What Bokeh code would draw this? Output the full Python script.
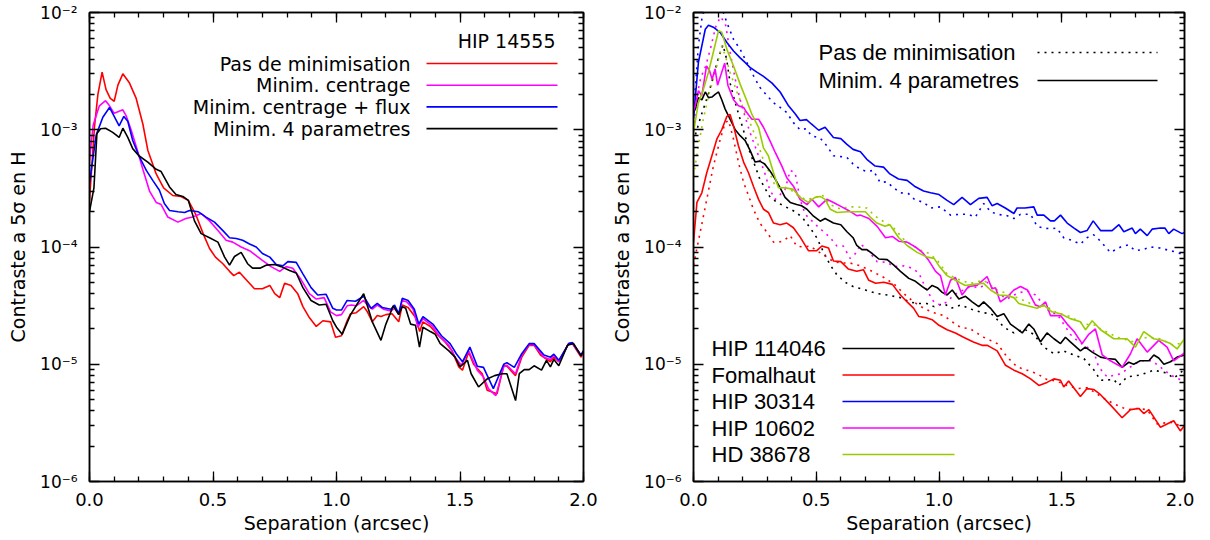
from bokeh.plotting import figure
from bokeh.layouts import row
from bokeh.models import FixedTicker, LinearAxis, LogAxis, PrintfTickFormatter, Range1d
from bokeh.embed import file_html
from bokeh.resources import INLINE
from bokeh.core.properties import value

# ---------------- data (separation in arcsec, 5-sigma contrast) ----------------
# Left panel : HIP 14555, four reduction methods
hip14555_pas_de_min = [(0.0,2.5e-4),(0.02,1.05e-3),(0.034,2.0e-3),(0.051,3.1e-3),(0.067,2.2e-3),(0.084,1.85e-3),(0.10,1.75e-3),(0.115,2.4e-3),(0.135,3.0e-3),(0.162,2.5e-3),(0.189,1.85e-3),(0.216,1.12e-3),(0.236,6.7e-4),(0.27,4.2e-4),(0.30,3.2e-4),(0.337,2.75e-4),(0.37,2.7e-4),(0.40,2.5e-4),(0.43,1.9e-4),(0.46,1.3e-4),(0.486,9.7e-5),(0.51,8.2e-5),(0.54,7.2e-5),(0.567,6.2e-5),(0.584,5.7e-5),(0.607,6.1e-5),(0.64,5.1e-5),(0.668,4.4e-5),(0.70,4.4e-5),(0.73,4.7e-5),(0.75,4.0e-5),(0.77,3.7e-5),(0.79,4.9e-5),(0.816,4.7e-5),(0.843,4.0e-5),(0.864,3.1e-5),(0.89,2.5e-5),(0.918,2.1e-5),(0.945,2.35e-5),(0.976,2.3e-5),(0.996,1.7e-5),(1.02,1.75e-5),(1.043,2.35e-5),(1.057,2.7e-5),(1.08,2.75e-5),(1.11,3.1e-5),(1.125,2.8e-5),(1.145,2.3e-5),(1.165,2.6e-5),(1.18,2.55e-5),(1.20,2.65e-5),(1.225,2.7e-5),(1.252,2.3e-5),(1.266,3.2e-5),(1.29,3.05e-5),(1.32,2.5e-5),(1.337,1.9e-5),(1.35,2.3e-5),(1.38,2.1e-5),(1.408,1.8e-5),(1.44,1.55e-5),(1.468,1.3e-5),(1.495,9.5e-6),(1.51,8.9e-6),(1.535,1.27e-5),(1.555,1.0e-5),(1.57,9.2e-6),(1.59,8.3e-6),(1.61,6.0e-6),(1.65,5.6e-6),(1.677,9.8e-6),(1.69,9.6e-6),(1.725,8.0e-6),(1.75,1.15e-5),(1.78,1.45e-5),(1.80,1.45e-5),(1.826,1.2e-5),(1.866,1.05e-5),(1.88,1.15e-5),(1.90,1.05e-5),(1.94,1.5e-5),(1.955,1.5e-5),(1.99,1.15e-5),(2.0,1.25e-5)]
hip14555_centrage = [(0.0,5.5e-4),(0.015,1.1e-3),(0.04,1.6e-3),(0.065,1.77e-3),(0.081,1.6e-3),(0.10,1.38e-3),(0.135,1.48e-3),(0.148,1.32e-3),(0.169,9.9e-4),(0.19,7.1e-4),(0.216,4.6e-4),(0.243,3.0e-4),(0.27,2.4e-4),(0.29,2.3e-4),(0.317,1.8e-4),(0.358,1.63e-4),(0.39,1.75e-4),(0.418,1.8e-4),(0.452,1.93e-4),(0.486,1.67e-4),(0.52,1.38e-4),(0.553,1.14e-4),(0.58,1.1e-4),(0.614,1.0e-4),(0.648,9.3e-5),(0.70,7.7e-5),(0.735,6.8e-5),(0.77,6.2e-5),(0.796,6.8e-5),(0.823,6.6e-5),(0.857,5.25e-5),(0.89,4.0e-5),(0.918,3.6e-5),(0.95,3.7e-5),(0.976,2.8e-5),(1.0,2.6e-5),(1.02,2.65e-5),(1.043,3.15e-5),(1.06,3.2e-5),(1.08,3.15e-5),(1.11,3.5e-5),(1.125,3.2e-5),(1.145,2.95e-5),(1.165,3.2e-5),(1.19,2.95e-5),(1.22,2.85e-5),(1.235,3.0e-5),(1.252,2.65e-5),(1.266,3.5e-5),(1.285,3.4e-5),(1.31,2.95e-5),(1.33,2.07e-5),(1.35,2.45e-5),(1.385,2.15e-5),(1.42,1.7e-5),(1.455,1.45e-5),(1.48,1.15e-5),(1.505,9.8e-6),(1.535,1.3e-5),(1.57,8.9e-6),(1.595,7.8e-6),(1.615,6.2e-6),(1.645,5.4e-6),(1.677,9.5e-6),(1.69,9.8e-6),(1.725,8.3e-6),(1.75,1.2e-5),(1.78,1.47e-5),(1.80,1.47e-5),(1.84,1.15e-5),(1.866,1.1e-5),(1.88,1.2e-5),(1.90,1.05e-5),(1.94,1.5e-5),(1.955,1.52e-5),(1.99,1.18e-5),(2.0,1.25e-5)]
hip14555_centrage_flux = [(0.0,3.5e-4),(0.027,9e-4),(0.054,1.28e-3),(0.081,1.55e-3),(0.10,1.3e-3),(0.12,1.08e-3),(0.139,1.3e-3),(0.155,1.18e-3),(0.175,8.1e-4),(0.20,6.0e-4),(0.23,4.5e-4),(0.256,3.7e-4),(0.283,3.05e-4),(0.303,2.35e-4),(0.324,2.05e-4),(0.358,2.0e-4),(0.385,1.97e-4),(0.405,2.05e-4),(0.44,2.0e-4),(0.472,1.8e-4),(0.506,1.63e-4),(0.54,1.38e-4),(0.567,1.2e-4),(0.594,1.18e-4),(0.62,1.14e-4),(0.648,1.06e-4),(0.675,1.0e-4),(0.70,8.8e-5),(0.73,8.2e-5),(0.756,7.1e-5),(0.783,6.9e-5),(0.803,7.5e-5),(0.837,7.4e-5),(0.864,5.9e-5),(0.897,4.5e-5),(0.924,3.9e-5),(0.958,3.95e-5),(0.985,3.0e-5),(1.0,2.9e-5),(1.02,2.9e-5),(1.043,3.5e-5),(1.077,3.45e-5),(1.11,3.8e-5),(1.14,3.0e-5),(1.165,3.3e-5),(1.185,3.05e-5),(1.22,2.95e-5),(1.235,3.2e-5),(1.252,2.7e-5),(1.266,3.65e-5),(1.29,3.5e-5),(1.315,2.95e-5),(1.333,2.2e-5),(1.35,2.55e-5),(1.39,2.2e-5),(1.425,1.75e-5),(1.46,1.5e-5),(1.485,1.23e-5),(1.51,1.05e-5),(1.54,1.4e-5),(1.57,9.6e-6),(1.595,9.4e-6),(1.635,6.2e-6),(1.677,1.0e-5),(1.69,1.03e-5),(1.72,9.4e-6),(1.75,1.23e-5),(1.78,1.5e-5),(1.80,1.5e-5),(1.84,1.2e-5),(1.866,1.15e-5),(1.88,1.22e-5),(1.90,1.08e-5),(1.94,1.5e-5),(1.955,1.53e-5),(1.99,1.2e-5),(2.0,1.3e-5)]
hip14555_4param = [(0.0,2.0e-4),(0.018,3.2e-4),(0.03,9.3e-4),(0.045,1.02e-3),(0.065,1.03e-3),(0.094,9.5e-4),(0.12,8.6e-4),(0.135,1.03e-3),(0.155,8.6e-4),(0.175,6.9e-4),(0.20,6.0e-4),(0.236,5.3e-4),(0.27,4.6e-4),(0.29,4.4e-4),(0.324,3.25e-4),(0.35,2.8e-4),(0.378,2.7e-4),(0.40,2.5e-4),(0.425,1.67e-4),(0.452,1.3e-4),(0.486,1.2e-4),(0.52,1.1e-4),(0.547,8.2e-5),(0.567,7.0e-5),(0.587,8.3e-5),(0.614,9.0e-5),(0.64,7.2e-5),(0.66,6.6e-5),(0.69,6.6e-5),(0.715,7.0e-5),(0.75,7.1e-5),(0.776,6.8e-5),(0.81,6.3e-5),(0.837,6.0e-5),(0.864,4.5e-5),(0.897,3.5e-5),(0.93,3.2e-5),(0.958,3.25e-5),(0.985,2.35e-5),(1.0,2.07e-5),(1.023,1.8e-5),(1.057,2.65e-5),(1.085,3.3e-5),(1.11,4.0e-5),(1.145,2.3e-5),(1.18,1.6e-5),(1.20,2.2e-5),(1.23,3.15e-5),(1.252,2.65e-5),(1.266,3.1e-5),(1.28,3.0e-5),(1.30,2.2e-5),(1.32,2.15e-5),(1.336,1.4e-5),(1.35,2.07e-5),(1.38,1.9e-5),(1.40,1.8e-5),(1.42,1.5e-5),(1.455,1.3e-5),(1.48,1.15e-5),(1.50,9.5e-6),(1.53,1.08e-5),(1.545,8.3e-6),(1.575,6.4e-6),(1.61,7.5e-6),(1.64,8.0e-6),(1.67,8.3e-6),(1.69,8.3e-6),(1.725,4.9e-6),(1.74,8.3e-6),(1.76,9.0e-6),(1.78,9.0e-6),(1.80,9.7e-6),(1.83,8.9e-6),(1.85,1.08e-5),(1.866,9.5e-6),(1.88,1.1e-5),(1.90,9.7e-6),(1.935,1.45e-5),(1.96,1.5e-5),(1.99,1.18e-5),(2.0,1.3e-5)]

left_labels = ["Pas de minimisation", "Minim. centrage", "Minim. centrage + flux", "Minim. 4 parametres"]
left_colors = ["#ff0000", "#ff00ff", "#0000ff", "#000000"]
left_title = "HIP 14555"

# Right panel : five stars, no minimisation (dotted) vs 4-parameter minimisation (solid)
hip114046_nm = [(0.0,8e-4),(0.03,1.3e-3),(0.06,2.0e-3),(0.08,2.8e-3),(0.10,4.0e-3),(0.12,5.3e-3),(0.135,4.0e-3),(0.149,2.5e-3),(0.17,1.7e-3),(0.19,1.23e-3),(0.21,8.9e-4),(0.23,6.4e-4),(0.251,4.9e-4),(0.27,3.8e-4),(0.29,3.2e-4),(0.31,2.7e-4),(0.34,2.4e-4),(0.367,2.25e-4),(0.394,2.1e-4),(0.42,1.97e-4),(0.448,1.73e-4),(0.475,1.46e-4),(0.502,1.2e-4),(0.53,9.0e-5),(0.557,7.0e-5),(0.584,5.8e-5),(0.618,5.0e-5),(0.65,4.6e-5),(0.70,4.3e-5),(0.75,4.0e-5),(0.79,3.9e-5),(0.843,3.7e-5),(0.88,3.4e-5),(0.911,3.3e-5),(0.95,3.3e-5),(0.98,3.1e-5),(1.02,3.3e-5),(1.05,3.0e-5),(1.088,3.2e-5),(1.14,2.9e-5),(1.182,2.75e-5),(1.21,2.7e-5),(1.223,2.6e-5),(1.264,2.07e-5),(1.305,1.85e-5),(1.346,2.0e-5),(1.386,1.8e-5),(1.427,1.4e-5),(1.468,1.23e-5),(1.508,1.3e-5),(1.535,1.23e-5),(1.59,1.12e-5),(1.63,9.0e-6),(1.658,7.3e-6),(1.712,7.4e-6),(1.733,6.6e-6),(1.766,7.8e-6),(1.82,8.1e-6),(1.875,8.9e-6),(1.929,8.4e-6),(1.956,7.6e-6),(1.99,8.7e-6),(2.0,9.1e-6)]
hip114046_m4 = [(0.0,1.4e-3),(0.007,1.5e-3),(0.02,1.88e-3),(0.034,1.8e-3),(0.048,2.1e-3),(0.061,1.88e-3),(0.075,1.9e-3),(0.088,2.0e-3),(0.102,2.1e-3),(0.115,1.8e-3),(0.129,1.5e-3),(0.149,1.23e-3),(0.17,1.0e-3),(0.19,8.9e-4),(0.21,8.1e-4),(0.23,6.7e-4),(0.251,5.3e-4),(0.27,5.4e-4),(0.29,5.1e-4),(0.31,4.5e-4),(0.333,3.8e-4),(0.353,3.2e-4),(0.373,2.65e-4),(0.394,2.4e-4),(0.42,2.3e-4),(0.44,2.25e-4),(0.462,2.1e-4),(0.489,1.83e-4),(0.516,1.66e-4),(0.536,1.75e-4),(0.57,1.6e-4),(0.60,1.55e-4),(0.625,1.35e-4),(0.65,1.2e-4),(0.665,1.03e-4),(0.686,9.5e-5),(0.706,9.5e-5),(0.728,8.8e-5),(0.755,7.9e-5),(0.789,7.8e-5),(0.816,7.0e-5),(0.843,6.2e-5),(0.877,5.4e-5),(0.904,5.1e-5),(0.932,4.6e-5),(0.952,4.3e-5),(0.972,4.7e-5),(0.993,4.5e-5),(1.013,4.1e-5),(1.033,3.9e-5),(1.054,4.3e-5),(1.081,3.6e-5),(1.108,3.8e-5),(1.135,3.4e-5),(1.162,3.1e-5),(1.182,3.4e-5),(1.21,3.0e-5),(1.237,2.55e-5),(1.264,2.7e-5),(1.291,2.2e-5),(1.318,2.0e-5),(1.339,1.85e-5),(1.366,2.2e-5),(1.386,2.0e-5),(1.413,1.55e-5),(1.44,1.85e-5),(1.468,1.65e-5),(1.495,1.5e-5),(1.515,1.7e-5),(1.535,1.55e-5),(1.576,1.3e-5),(1.596,1.4e-5),(1.624,1.27e-5),(1.658,1.15e-5),(1.685,1.12e-5),(1.719,1.1e-5),(1.746,9.4e-6),(1.773,1.04e-5),(1.793,1.0e-5),(1.82,1.07e-5),(1.855,1.07e-5),(1.875,1.2e-5),(1.895,1.13e-5),(1.916,1.0e-5),(1.943,1.05e-5),(1.97,1.15e-5),(2.0,1.2e-5)]
fomalhaut_nm = [(0.0,7e-5),(0.027,1.33e-4),(0.054,2.55e-4),(0.081,4.9e-4),(0.109,8.3e-4),(0.129,1.15e-3),(0.143,1.2e-3),(0.163,8.3e-4),(0.183,5.3e-4),(0.204,3.55e-4),(0.224,2.75e-4),(0.244,2.1e-4),(0.27,1.6e-4),(0.30,1.33e-4),(0.326,1.1e-4),(0.346,1.1e-4),(0.367,1.13e-4),(0.394,1.25e-4),(0.42,1.02e-4),(0.448,1.0e-4),(0.475,1.02e-4),(0.502,9.3e-5),(0.536,8.4e-5),(0.57,7.5e-5),(0.604,7.3e-5),(0.638,7.3e-5),(0.68,6.9e-5),(0.721,6.3e-5),(0.775,5.5e-5),(0.816,4.85e-5),(0.857,4.0e-5),(0.897,3.4e-5),(0.938,3.0e-5),(0.979,2.75e-5),(1.02,2.6e-5),(1.047,2.35e-5),(1.087,2.07e-5),(1.128,2.0e-5),(1.182,1.7e-5),(1.237,1.5e-5),(1.278,1.15e-5),(1.318,9.5e-6),(1.359,8.9e-6),(1.40,8.3e-6),(1.44,7.4e-6),(1.48,7.2e-6),(1.522,6.6e-6),(1.562,6.2e-6),(1.603,6.3e-6),(1.644,5.6e-6),(1.658,5.3e-6),(1.712,4.6e-6),(1.766,4.1e-6),(1.807,4.2e-6),(1.848,4.1e-6),(1.888,3.1e-6),(1.943,3.2e-6),(2.0,2.9e-6)]
fomalhaut_m4 = [(0.0,1.1e-4),(0.014,2.4e-4),(0.034,2.9e-4),(0.054,4.3e-4),(0.075,6.0e-4),(0.095,8.3e-4),(0.115,1.0e-3),(0.136,1.3e-3),(0.149,1.35e-3),(0.163,1.08e-3),(0.183,7.3e-4),(0.204,5.3e-4),(0.224,4.3e-4),(0.244,3.3e-4),(0.265,2.55e-4),(0.285,2.1e-4),(0.305,1.97e-4),(0.326,1.6e-4),(0.353,1.55e-4),(0.38,1.6e-4),(0.407,1.46e-4),(0.434,1.22e-4),(0.468,9.3e-5),(0.502,9.3e-5),(0.523,1.02e-4),(0.55,9.8e-5),(0.57,7.6e-5),(0.60,7.5e-5),(0.63,6.5e-5),(0.665,6.2e-5),(0.692,6.4e-5),(0.714,5.2e-5),(0.742,4.9e-5),(0.775,5.0e-5),(0.81,4.8e-5),(0.843,3.9e-5),(0.87,3.4e-5),(0.897,3.0e-5),(0.918,2.55e-5),(0.945,2.5e-5),(0.972,2.4e-5),(1.0,2.15e-5),(1.033,1.97e-5),(1.067,1.85e-5),(1.10,1.7e-5),(1.14,1.55e-5),(1.175,1.45e-5),(1.196,1.45e-5),(1.21,1.4e-5),(1.237,1.3e-5),(1.271,9.8e-6),(1.305,8.9e-6),(1.339,8.3e-6),(1.373,7.5e-6),(1.407,6.6e-6),(1.44,7.0e-6),(1.468,7.5e-6),(1.495,7.3e-6),(1.508,6.4e-6),(1.528,7.2e-6),(1.576,5.3e-6),(1.603,6.2e-6),(1.63,6.1e-6),(1.658,5.5e-6),(1.698,4.5e-6),(1.746,3.5e-6),(1.78,4.1e-6),(1.814,4.2e-6),(1.834,3.8e-6),(1.855,4.1e-6),(1.902,2.9e-6),(1.956,3.3e-6),(1.983,2.7e-6),(2.0,3.0e-6)]
hip30314_nm = [(0.0,1.9e-3),(0.007,2.2e-3),(0.02,5.2e-3),(0.034,8.8e-3),(0.05,1.15e-2),(0.08,1.3e-2),(0.115,1.1e-2),(0.136,8.2e-3),(0.163,5.9e-3),(0.19,4.85e-3),(0.217,3.75e-3),(0.244,2.9e-3),(0.27,2.3e-3),(0.30,1.95e-3),(0.326,1.7e-3),(0.353,1.55e-3),(0.38,1.4e-3),(0.407,1.15e-3),(0.434,1.0e-3),(0.46,1.02e-3),(0.48,8.9e-4),(0.516,8.5e-4),(0.543,7.3e-4),(0.57,6.0e-4),(0.60,5.9e-4),(0.625,5.8e-4),(0.65,5.1e-4),(0.68,4.6e-4),(0.706,4.4e-4),(0.733,4.5e-4),(0.76,3.55e-4),(0.787,3.6e-4),(0.815,3.2e-4),(0.842,2.9e-4),(0.876,2.85e-4),(0.90,2.55e-4),(0.937,2.4e-4),(0.966,2.15e-4),(1.006,2.2e-4),(1.047,1.87e-4),(1.087,1.9e-4),(1.12,1.9e-4),(1.148,1.8e-4),(1.182,2.35e-4),(1.21,2.0e-4),(1.237,1.9e-4),(1.278,1.85e-4),(1.305,1.75e-4),(1.332,1.9e-4),(1.373,1.9e-4),(1.40,1.5e-4),(1.427,1.45e-4),(1.454,1.43e-4),(1.48,1.45e-4),(1.508,1.2e-4),(1.542,1.14e-4),(1.576,1.06e-4),(1.603,1.2e-4),(1.63,1.27e-4),(1.658,1.12e-4),(1.698,9.0e-5),(1.74,1.0e-4),(1.77,1.04e-4),(1.80,9.3e-5),(1.83,9.5e-5),(1.862,1.0e-4),(1.90,9.8e-5),(1.942,9.3e-5),(1.97,9.0e-5),(2.0,8.5e-5)]
hip30314_m4 = [(0.0,1.25e-3),(0.02,3.75e-3),(0.048,7.2e-3),(0.061,7.8e-3),(0.081,7.5e-3),(0.109,6.75e-3),(0.136,5.55e-3),(0.163,4.7e-3),(0.19,4.1e-3),(0.21,3.75e-3),(0.23,3.4e-3),(0.258,3.1e-3),(0.285,2.85e-3),(0.32,2.5e-3),(0.353,2.1e-3),(0.387,1.6e-3),(0.414,1.37e-3),(0.434,1.2e-3),(0.46,1.22e-3),(0.48,1.12e-3),(0.51,9.9e-4),(0.536,1.05e-3),(0.57,8.6e-4),(0.60,8.4e-4),(0.625,7.5e-4),(0.65,6.8e-4),(0.68,6.5e-4),(0.706,5.6e-4),(0.74,4.9e-4),(0.774,4.8e-4),(0.80,4.2e-4),(0.835,3.8e-4),(0.87,3.7e-4),(0.90,3.3e-4),(0.937,3.0e-4),(0.966,2.9e-4),(1.0,2.8e-4),(1.033,2.5e-4),(1.06,2.3e-4),(1.094,2.65e-4),(1.128,2.3e-4),(1.162,2.6e-4),(1.196,2.65e-4),(1.216,2.25e-4),(1.237,2.35e-4),(1.27,2.15e-4),(1.305,1.93e-4),(1.318,2.15e-4),(1.35,2.15e-4),(1.386,2.2e-4),(1.40,1.87e-4),(1.427,1.87e-4),(1.454,1.67e-4),(1.47,1.67e-4),(1.495,1.87e-4),(1.522,1.6e-4),(1.55,1.45e-4),(1.576,1.33e-4),(1.603,1.38e-4),(1.628,1.67e-4),(1.658,1.38e-4),(1.705,1.38e-4),(1.733,1.55e-4),(1.753,1.35e-4),(1.787,1.45e-4),(1.80,1.3e-4),(1.82,1.42e-4),(1.848,1.25e-4),(1.868,1.42e-4),(1.902,1.45e-4),(1.92,1.45e-4),(1.936,1.3e-4),(1.956,1.42e-4),(1.99,1.3e-4),(2.0,1.33e-4)]
hip10602_nm = [(0.0,1.0e-3),(0.015,2.0e-3),(0.03,2.8e-3),(0.05,3.5e-3),(0.07,5.0e-3),(0.09,7.5e-3),(0.11,9.2e-3),(0.13,8.0e-3),(0.149,4.6e-3),(0.17,2.7e-3),(0.19,1.8e-3),(0.21,1.3e-3),(0.23,9.5e-4),(0.25,7.3e-4),(0.27,5.6e-4),(0.29,4.3e-4),(0.31,3.1e-4),(0.333,2.55e-4),(0.353,2.8e-4),(0.373,3.1e-4),(0.394,4.5e-4),(0.414,4.3e-4),(0.434,2.55e-4),(0.455,1.9e-4),(0.475,1.73e-4),(0.502,1.52e-4),(0.53,1.35e-4),(0.557,1.2e-4),(0.584,1.02e-4),(0.61,1.02e-4),(0.638,8.0e-5),(0.665,9.0e-5),(0.68,1.06e-4),(0.707,9.5e-5),(0.748,7.5e-5),(0.789,7.4e-5),(0.816,6.8e-5),(0.857,6.9e-5),(0.89,6.6e-5),(0.918,6.0e-5),(0.945,4.5e-5),(0.979,3.4e-5),(1.006,3.2e-5),(1.033,3.4e-5),(1.06,3.9e-5),(1.10,4.3e-5),(1.128,4.6e-5),(1.169,4.5e-5),(1.196,5.0e-5),(1.223,4.3e-5),(1.25,3.9e-5),(1.278,3.6e-5),(1.305,3.9e-5),(1.332,4.1e-5),(1.36,4.2e-5),(1.393,3.9e-5),(1.427,3.2e-5),(1.454,2.75e-5),(1.48,2.7e-5),(1.508,2.2e-5),(1.535,1.8e-5),(1.562,1.6e-5),(1.59,1.45e-5),(1.63,1.3e-5),(1.65,9.5e-6),(1.685,7.8e-6),(1.74,8.3e-6),(1.78,9.5e-6),(1.82,1.07e-5),(1.868,1.07e-5),(1.90,9.5e-6),(1.943,8.1e-6),(1.983,7.4e-6),(2.0,7.8e-6)]
hip10602_m4 = [(0.0,1.45e-3),(0.007,1.6e-3),(0.02,2.15e-3),(0.034,1.95e-3),(0.053,3.5e-3),(0.065,3.2e-3),(0.076,2.7e-3),(0.088,3.3e-3),(0.098,2.4e-3),(0.127,3.7e-3),(0.14,2.4e-3),(0.163,1.8e-3),(0.183,1.6e-3),(0.204,1.55e-3),(0.217,1.4e-3),(0.238,1.23e-3),(0.265,1.23e-3),(0.285,1.05e-3),(0.312,8.0e-4),(0.333,6.4e-4),(0.36,4.9e-4),(0.38,3.9e-4),(0.407,3.3e-4),(0.434,2.55e-4),(0.462,2.3e-4),(0.482,2.55e-4),(0.51,2.2e-4),(0.543,2.55e-4),(0.57,2.4e-4),(0.604,2.2e-4),(0.631,2.05e-4),(0.665,1.85e-4),(0.68,1.87e-4),(0.714,1.75e-4),(0.748,1.5e-4),(0.782,1.2e-4),(0.81,1.23e-4),(0.836,1.12e-4),(0.87,1.1e-4),(0.904,1.0e-4),(0.932,9.0e-5),(0.958,7.7e-5),(0.986,6.2e-5),(1.006,5.7e-5),(1.026,3.9e-5),(1.047,5.2e-5),(1.067,5.5e-5),(1.094,3.9e-5),(1.12,4.6e-5),(1.155,4.7e-5),(1.196,5.6e-5),(1.216,4.4e-5),(1.23,4.5e-5),(1.25,3.4e-5),(1.278,3.75e-5),(1.305,4.3e-5),(1.332,4.6e-5),(1.36,4.3e-5),(1.393,3.2e-5),(1.413,3.1e-5),(1.434,3.4e-5),(1.454,2.6e-5),(1.474,2.6e-5),(1.495,2.6e-5),(1.522,2.2e-5),(1.55,1.9e-5),(1.583,1.5e-5),(1.61,1.8e-5),(1.637,2.0e-5),(1.665,1.2e-5),(1.698,1.07e-5),(1.746,9.4e-6),(1.78,1.23e-5),(1.807,1.65e-5),(1.848,1.27e-5),(1.895,1.6e-5),(1.929,1.4e-5),(1.956,1.07e-5),(1.977,1.15e-5),(2.0,1.25e-5)]
hd38678_nm = [(0.0,4.0e-4),(0.02,7.3e-4),(0.04,1.23e-3),(0.061,1.95e-3),(0.081,2.7e-3),(0.102,4.0e-3),(0.115,5.2e-3),(0.129,4.3e-3),(0.149,3.1e-3),(0.177,2.1e-3),(0.204,1.5e-3),(0.23,1.15e-3),(0.251,8.9e-4),(0.27,6.8e-4),(0.29,5.1e-4),(0.31,4.3e-4),(0.333,3.3e-4),(0.36,3.3e-4),(0.394,3.1e-4),(0.42,2.8e-4),(0.455,2.55e-4),(0.489,2.6e-4),(0.523,2.8e-4),(0.557,2.3e-4),(0.60,2.1e-4),(0.63,2.2e-4),(0.665,2.2e-4),(0.706,2.15e-4),(0.74,1.83e-4),(0.774,1.65e-4),(0.816,1.45e-4),(0.857,1.16e-4),(0.911,9.7e-5),(0.96,8.8e-5),(0.993,7.7e-5),(1.033,5.9e-5),(1.087,5.2e-5),(1.128,4.9e-5),(1.182,5.2e-5),(1.237,4.3e-5),(1.278,4.0e-5),(1.332,3.6e-5),(1.386,3.2e-5),(1.44,3.1e-5),(1.48,2.75e-5),(1.535,2.55e-5),(1.59,2.2e-5),(1.644,2.15e-5),(1.658,2.0e-5),(1.726,1.7e-5),(1.793,1.55e-5),(1.848,1.7e-5),(1.90,1.65e-5),(1.956,1.45e-5),(2.0,1.55e-5)]
hd38678_m4 = [(0.0,9.5e-4),(0.02,1.7e-3),(0.04,2.2e-3),(0.061,3.1e-3),(0.081,4.6e-3),(0.102,7.0e-3),(0.115,6.8e-3),(0.136,4.85e-3),(0.163,3.5e-3),(0.19,2.45e-3),(0.217,1.77e-3),(0.238,1.35e-3),(0.265,1.05e-3),(0.285,7.0e-4),(0.305,6.0e-4),(0.326,4.3e-4),(0.346,3.2e-4),(0.373,3.2e-4),(0.407,3.1e-4),(0.434,2.65e-4),(0.468,2.4e-4),(0.495,2.65e-4),(0.516,2.7e-4),(0.536,2.55e-4),(0.557,2.1e-4),(0.584,1.97e-4),(0.625,2.0e-4),(0.665,2.0e-4),(0.70,2.0e-4),(0.72,1.8e-4),(0.747,1.6e-4),(0.78,1.5e-4),(0.80,1.55e-4),(0.836,1.2e-4),(0.87,1.03e-4),(0.911,9.0e-5),(0.952,8.2e-5),(0.98,8.0e-5),(1.0,6.9e-5),(1.033,5.7e-5),(1.067,5.2e-5),(1.107,4.7e-5),(1.14,4.8e-5),(1.182,4.9e-5),(1.21,4.3e-5),(1.243,3.9e-5),(1.278,3.85e-5),(1.305,3.7e-5),(1.325,3.3e-5),(1.36,3.15e-5),(1.40,3.0e-5),(1.427,3.2e-5),(1.46,2.8e-5),(1.495,2.7e-5),(1.535,2.45e-5),(1.576,2.3e-5),(1.597,1.97e-5),(1.624,2.35e-5),(1.658,1.97e-5),(1.712,1.65e-5),(1.766,1.65e-5),(1.80,1.4e-5),(1.834,1.9e-5),(1.875,1.65e-5),(1.909,1.6e-5),(1.943,1.5e-5),(1.97,1.35e-5),(2.0,1.65e-5)]

star_names = ["HIP 114046", "Fomalhaut", "HIP 30314", "HIP 10602", "HD 38678"]
star_colors = ["#000000", "#ff0000", "#0000ff", "#ff00ff", "#99cc00"]
method_labels = ["Pas de minimisation", "Minim. 4 parametres"]

# axes
x_major = [0.0, 0.5, 1.0, 1.5, 2.0]
x_minor = [0.1 * i for i in range(21)]
y_major = [1e-6, 1e-5, 1e-4, 1e-3, 1e-2]
y_tick_labels = ["10⁻⁶", "10⁻⁵", "10⁻⁴", "10⁻³", "10⁻²"]
x_title = "Separation (arcsec)"
y_title = "Contraste a 5σ en H"

# ---------------- styling / layout ----------------
FONT = "DejaVu Sans"
LFONT = "Liberation Sans"
FRAME_H = 469
TOP = 12
BOTTOM = 540 - TOP - FRAME_H
LW = 1.6
DOT = "2 5"

y_minor = [m * d for d in y_major[:-1] for m in range(2, 10)]


def style_axis(ax, ticker, labels, size="18px"):
    ax.ticker = ticker
    ax.major_tick_in = 10
    ax.major_tick_out = 0
    ax.minor_tick_in = 5
    ax.minor_tick_out = 0
    ax.axis_line_color = "black"
    ax.axis_line_width = 1.5
    ax.major_tick_line_width = 1.3
    ax.minor_tick_line_width = 1.3
    ax.major_label_text_font = FONT
    if labels:
        ax.major_label_text_color = "black"
        ax.major_label_text_font_size = size
        ax.axis_label_text_font = FONT
        ax.axis_label_text_font_size = "19px"
        ax.axis_label_text_font_style = "normal"
        ax.axis_label_text_color = "black"
    else:
        ax.major_label_text_color = None
        ax.major_label_text_font_size = "1px"
        ax.major_label_standoff = 0


def make_fig(frame_w, left, right):
    p = figure(frame_width=frame_w, frame_height=FRAME_H, x_range=Range1d(0, 2), y_range=Range1d(1e-6, 1e-2),
               y_axis_type="log", output_backend="svg", toolbar_location=None,
               min_border_left=left, min_border_right=right, min_border_top=TOP, min_border_bottom=BOTTOM)
    p.grid.visible = False
    p.outline_line_color = "black"
    p.outline_line_width = 1.5
    p.background_fill_color = "white"
    p.border_fill_color = "white"
    xt = FixedTicker(ticks=x_major, minor_ticks=x_minor)
    yt = FixedTicker(ticks=y_major, minor_ticks=y_minor)
    style_axis(p.xaxis[0], xt, True, "18px")
    p.xaxis[0].formatter = PrintfTickFormatter(format="%.1f")
    p.xaxis[0].axis_label = x_title
    p.xaxis[0].major_label_standoff = 11
    p.xaxis[0].axis_label_standoff = 3
    style_axis(p.yaxis[0], yt, True, "17px")
    p.yaxis[0].major_label_overrides = dict(zip(y_major, y_tick_labels))
    p.yaxis[0].major_label_standoff = 12
    p.yaxis[0].axis_label = y_title
    p.yaxis[0].axis_label_standoff = 8
    top = LinearAxis()
    style_axis(top, FixedTicker(ticks=x_major, minor_ticks=x_minor), False)
    p.add_layout(top, "above")
    rt = LogAxis()
    style_axis(rt, FixedTicker(ticks=y_major, minor_ticks=y_minor), False)
    p.add_layout(rt, "right")
    return p


def xs(pairs):
    return [a for a, b in pairs]


def ys(pairs):
    return [b for a, b in pairs]


def ypos(px):  # legend row position: pixels below the top of the frame
    return 10 ** (-2 - 4 * px / FRAME_H)


def xpos(px, frame_w):  # pixels right of the left edge of the frame
    return 2.0 * px / frame_w


# ---------------- left panel ----------------
FW1, L1, R1 = 494, 89, 17
p1 = make_fig(FW1, L1, R1)
for pairs, col in zip([hip14555_pas_de_min, hip14555_centrage, hip14555_centrage_flux, hip14555_4param], left_colors):
    p1.line(xs(pairs), ys(pairs), line_color=col, line_width=LW)

p1.text(x=[xpos(466, FW1)], y=[ypos(28)], text=[left_title], text_align="right", text_baseline="middle",
        text_font=value(FONT), text_font_size="19px", text_color="black")
for i, (lab, col) in enumerate(zip(left_labels, left_colors)):
    yy = ypos(51 + i * 21.7)
    p1.text(x=[xpos(321, FW1)], y=[yy], text=[lab], text_align="right", text_baseline="middle",
            text_font=value(FONT), text_font_size="19px", text_color="black")
    p1.line([xpos(337, FW1), xpos(468, FW1)], [yy, yy], line_color=col, line_width=LW)

# ---------------- right panel ----------------
FW2, L2, R2 = 491, 93, 10
p2 = make_fig(FW2, L2, R2)
nm_sets = [hip114046_nm, fomalhaut_nm, hip30314_nm, hip10602_nm, hd38678_nm]
m4_sets = [hip114046_m4, fomalhaut_m4, hip30314_m4, hip10602_m4, hd38678_m4]
for pairs, col in zip(nm_sets, star_colors):
    p2.line(xs(pairs), ys(pairs), line_color=col, line_width=LW, line_dash=DOT)
for pairs, col in zip(m4_sets, star_colors):
    p2.line(xs(pairs), ys(pairs), line_color=col, line_width=LW)

for i, (lab, dash) in enumerate(zip(method_labels, [DOT, "solid"])):
    yy = ypos(40 + i * 28)
    p2.text(x=[xpos(125, FW2)], y=[yy], text=[lab], text_align="left", text_baseline="middle",
            text_font=value(LFONT), text_font_size="22px", text_color="black")
    p2.line([xpos(344, FW2), xpos(464, FW2)], [yy, yy], line_color="black", line_width=LW, line_dash=dash)

for i, (lab, col) in enumerate(zip(star_names, star_colors)):
    yy = ypos(336 + i * 26.5)
    p2.text(x=[xpos(18, FW2)], y=[yy], text=[lab], text_align="left", text_baseline="middle",
            text_font=value(LFONT), text_font_size="22px", text_color="black")
    p2.line([xpos(149, FW2), xpos(261, FW2)], [yy, yy], line_color=col, line_width=LW)

layout = row(p1, p2)
open("out.html", "w").write(file_html(layout, INLINE))
